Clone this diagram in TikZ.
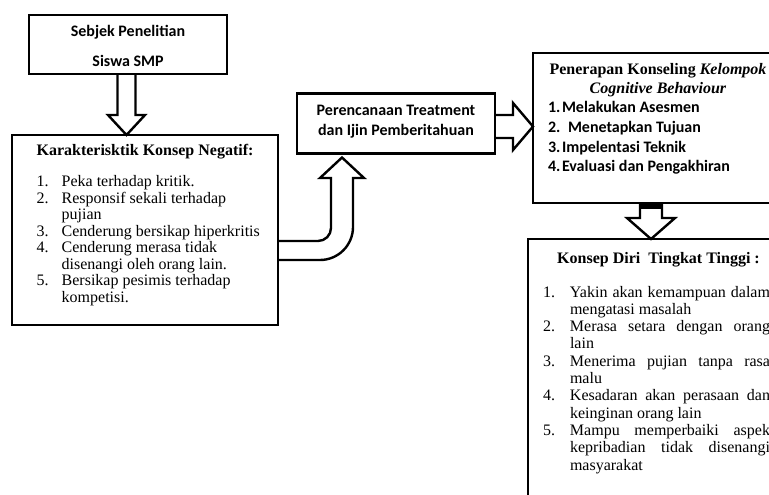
\documentclass[tikz,border=0pt]{standalone}
\usepackage{fontspec}
\setmainfont{Liberation Serif}
\newfontfamily\calfont{Carlito}
\usetikzlibrary{calc}
\newcommand\myitem[3]{\noindent\hangindent=#1\hangafter=1\makebox[#1][l]{#2}#3\par}
\begin{document}
\begin{tikzpicture}[x=1pt,y=-1pt,
  box/.style={draw, line width=2.6pt, inner sep=0pt, outer sep=0pt},
  blk/.style={draw, line width=2.4pt, line join=miter},
  tx/.style={inner sep=0pt, outer sep=0pt},
  calb/.style={font=\calfont\bfseries\fontsize{16}{19}\selectfont},
  serb/.style={font=\bfseries\fontsize{16}{18}\selectfont}
  ]
\useasboundingbox (0,0) rectangle (769,495);
\clip (0,0) rectangle (769,495);

% boxes
\node[box, minimum width=198pt, minimum height=59pt] (b1) at (128,44.5) {};
\node[box, minimum width=266pt, minimum height=190pt] (b2) at (145,230) {};
\node[box, minimum width=198pt, minimum height=60pt] (b3) at (396,123.5) {};
\node[box, minimum width=250pt, minimum height=150pt] (b4) at (658,128) {};
\node[box, minimum width=260pt, minimum height=282pt] (b5) at (658,380) {};

% box 1 text
\node[tx, calb, anchor=base] (t1a) at (128,36.7) {Sebjek Penelitian};
\node[tx, calb, anchor=base] (t1b) at (128,66.7) {Siswa SMP};

% box 2 text
\node[tx, serb, anchor=base] (t2h) at (145,155) {Karakterisktik Konsep Negatif:};
\node[tx, anchor=base west] (t2l) at (36.7,186.7) {\parbox[t]{235pt}{\fontsize{16}{16.5}\selectfont\raggedright
\myitem{25pt}{1.}{Peka terhadap kritik.}
\myitem{25pt}{2.}{Responsif sekali terhadap\newline pujian}
\myitem{25pt}{3.}{Cenderung bersikap hiperkritis}
\myitem{25pt}{4.}{Cenderung merasa tidak\newline disenangi oleh orang lain.}
\myitem{25pt}{5.}{Bersikap pesimis terhadap\newline kompetisi.}}};

% box 3 text
\node[tx, anchor=base] (t3) at (396,116) {\parbox[t]{190pt}{\centering\calfont\bfseries\fontsize{16}{20}\selectfont Perencanaan Treatment\\dan Ijin Pemberitahuan}};

% box 4 text
\node[tx, anchor=base] (t4h) at (658,75) {\parbox[t]{240pt}{\centering\bfseries\fontsize{16}{19}\selectfont Penerapan Konseling \textit{Kelompok}\\\textit{Cognitive Behaviour}}};
\node[tx, anchor=base west] (t4l) at (548,113) {\parbox[t]{215pt}{\raggedright\calfont\bfseries\fontsize{16}{19.6}\selectfont
\makebox[14pt][l]{1.}Melakukan Asesmen\\
\makebox[14pt][l]{2.}\hspace{6pt}Menetapkan Tujuan\\
\makebox[14pt][l]{3.}Impelentasi Teknik\\
\makebox[14pt][l]{4.}Evaluasi dan Pengakhiran}};

% box 5 text
\node[tx, serb, anchor=base] (t5h) at (658.5,263) {Konsep Diri\ \ Tingkat Tinggi :};
\node[tx, anchor=base west] (t5l) at (543,297) {\parbox[t]{227pt}{\fontsize{16}{17.3}\selectfont\emergencystretch=20pt
\myitem{27pt}{1.}{Yakin akan kemampuan dalam\linebreak mengatasi masalah}
\myitem{27pt}{2.}{Merasa setara dengan orang\linebreak lain}
\myitem{27pt}{3.}{Menerima pujian tanpa rasa\linebreak malu}
\myitem{27pt}{4.}{Kesadaran akan perasaan dan\linebreak keinginan orang lain}
\myitem{27pt}{5.}{Mampu memperbaiki aspek\linebreak kepribadian tidak disenangi\linebreak masyarakat}}};

% arrow b1 -> b2
\draw[blk] (b1.south -| 117.5,0) -- (117.5,115) -- (108,115) -- (b2.north -| 126.5,0)
  -- (145,115) -- (135.5,115) -- (b1.south -| 135.5,0);

% curved arrow b2 -> b3
\draw[blk] (b2.east |- 0,241) -- (318,241) .. controls (325.2,241) and (331,235.2) .. (331,228)
  -- (331,178) -- (320,178) -- ($(b3.south -| 342,0)+(0,4)$) -- (364,178) -- (353,178) -- (353,227)
  .. controls (353,245.2) and (338.2,260) .. (320,260) -- (b2.east |- 0,260);

% arrow b3 -> b4
\draw[blk] (b3.east |- 0,115) -- (513,115) -- (513,103) -- (b4.west |- 0,126.5)
  -- (513,150) -- (513,138) -- (b3.east |- 0,138);

% arrow b4 -> b5
\fill[black] (640,203) rectangle (662,209);
\draw[blk] (b4.south -| 640,0) -- (640,218) -- (627,218) -- (b5.north -| 651,0)
  -- (675,218) -- (662,218) -- (b4.south -| 662,0);
\end{tikzpicture}
\end{document}
